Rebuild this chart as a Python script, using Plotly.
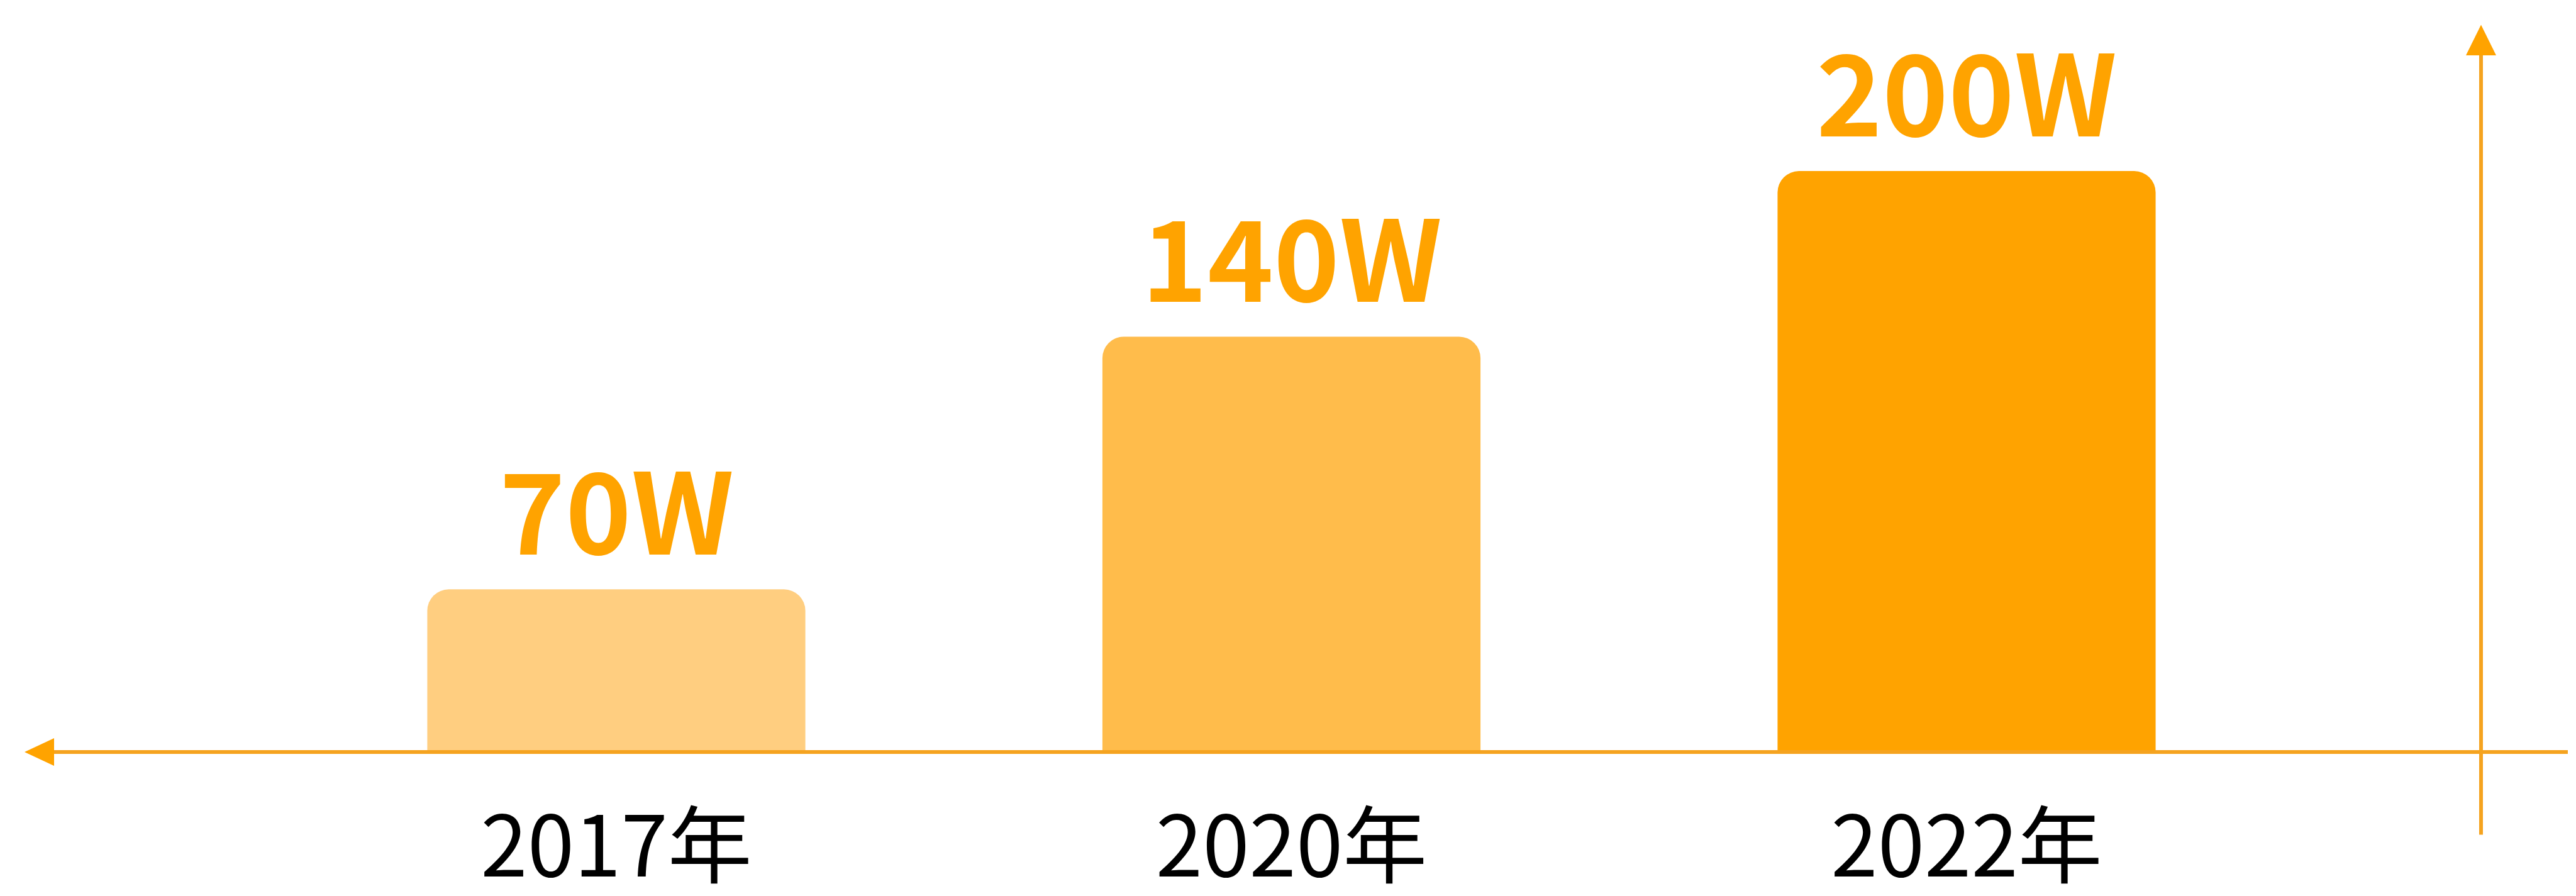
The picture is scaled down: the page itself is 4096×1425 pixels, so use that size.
import plotly.graph_objects as go

# ---- data ----
categories = ["2017年", "2020年", "2022年"]
values = [70, 140, 200]                       # labelled values (W)
value_labels = ["70W", "140W", "200W"]
bar_heights = [56, 143, 200]                  # drawn heights
bar_colors = ["#FFCE80", "#FFBC4B", "#FFA300"]

W, H = 4096, 1425
axis_px = 1246            # y pixel of the horizontal axis line
plot_h = axis_px
top3_px = 277             # top of tallest bar
ymax = bar_heights[2] * plot_h / (axis_px - top3_px)

spacing = 1073.5
c0 = 972
r0 = -c0 / spacing
r1 = r0 + W / spacing

line_col = "#F5A31F"
head_col = "#FFA300"

fig = go.Figure()
fig.add_trace(go.Bar(
    x=[0, 1, 2], y=bar_heights,
    marker=dict(color=bar_colors, line=dict(width=0)),
    width=0.56, hoverinfo="skip",
))

for i, (lab, h) in enumerate(zip(value_labels, bar_heights)):
    fig.add_annotation(x=i, y=h, text="<b>%s</b>" % lab, showarrow=False,
                       xref="x", yref="y", yanchor="bottom", yshift=2,
                       font=dict(family="Noto Sans CJK SC", size=178, color="#FFA300"))

def px(x):
    return x / W

def py(y):
    return (axis_px - y) / plot_h

shapes = []
# horizontal axis line
shapes.append(dict(type="line", xref="paper", yref="paper",
                   x0=px(70), x1=px(4075), y0=py(1246), y1=py(1246),
                   line=dict(color=line_col, width=6)))
# left arrow head
shapes.append(dict(type="path", xref="paper", yref="paper",
                   path="M %f %f L %f %f L %f %f Z" % (px(31), py(1246), px(78), py(1223), px(78), py(1269)),
                   fillcolor=head_col, line=dict(width=0)))
# vertical axis line
shapes.append(dict(type="line", xref="paper", yref="paper",
                   x0=px(3937), x1=px(3937), y0=py(1384), y1=py(80),
                   line=dict(color=line_col, width=6)))
# top arrow head
shapes.append(dict(type="path", xref="paper", yref="paper",
                   path="M %f %f L %f %f L %f %f Z" % (px(3937), py(33), px(3913), py(84), px(3961), py(84)),
                   fillcolor=head_col, line=dict(width=0)))

fig.update_layout(
    width=W, height=H,
    margin=dict(l=0, r=0, t=0, b=H - axis_px, pad=0),
    paper_bgcolor="white", plot_bgcolor="white",
    showlegend=False,
    barcornerradius=34,
    shapes=shapes,
    xaxis=dict(range=[r0, r1], tickmode="array", tickvals=[0, 1, 2], ticktext=categories,
               showgrid=False, zeroline=False, showline=False, ticks="",
               tickfont=dict(family="Noto Sans CJK SC", size=134, color="#000000"),
               ticklabelstandoff=63, fixedrange=True),
    yaxis=dict(range=[0, ymax], visible=False, showgrid=False, zeroline=False, fixedrange=True),
)

fig.write_html("out.html")
